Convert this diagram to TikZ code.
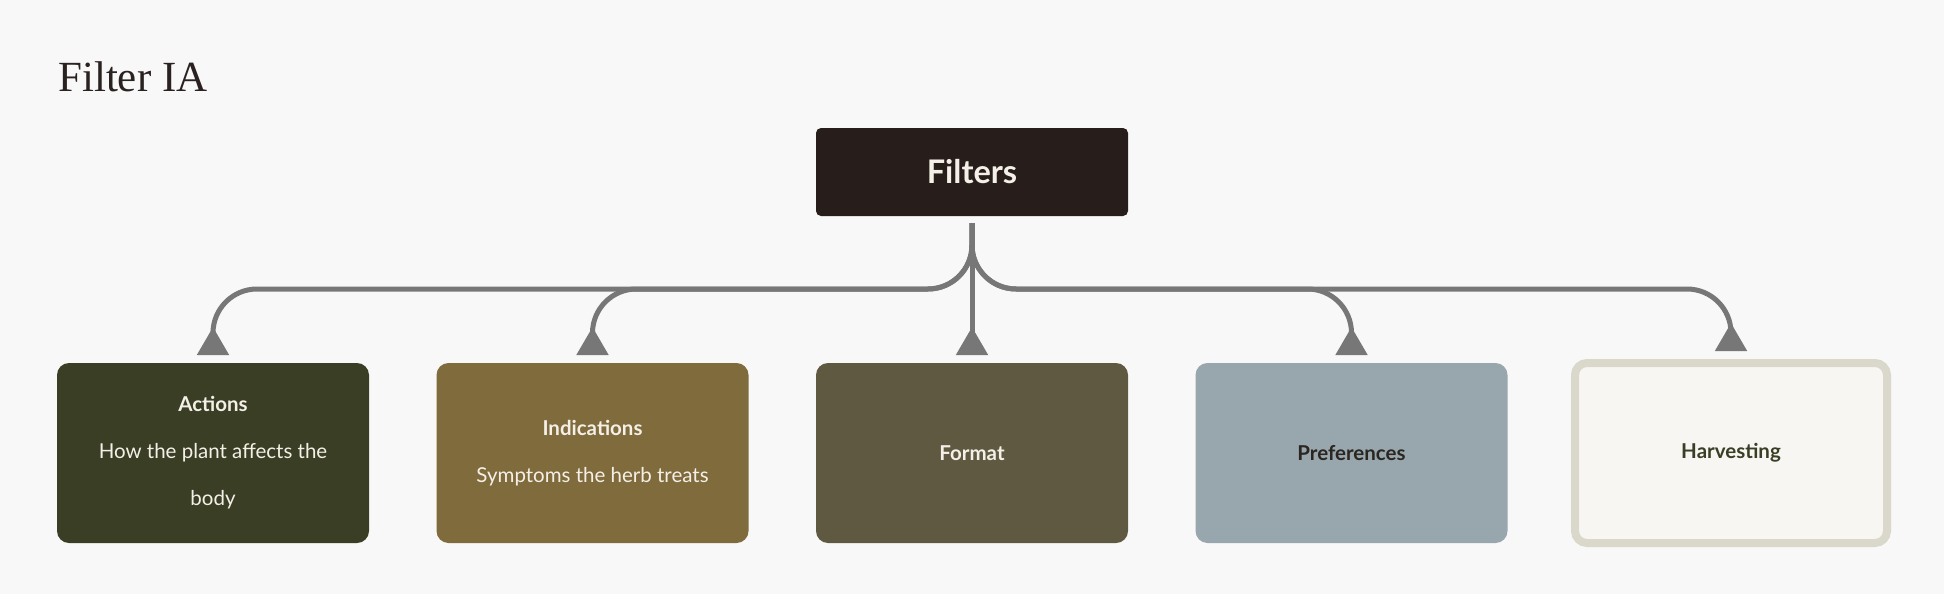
\documentclass[tikz,border=0pt]{standalone}
\usepackage{fontspec}
\setmainfont{Lato}
\newfontfamily\titlefont{Liberation Serif}
\usepackage{tikz}
\usetikzlibrary{positioning, arrows.meta}
\usepackage{xcolor}

\definecolor{paper}{HTML}{F8F8F8}
\definecolor{linegray}{HTML}{777777}
\definecolor{titleink}{HTML}{2A2220}
\definecolor{filtersbg}{HTML}{271E1C}
\definecolor{actionsbg}{HTML}{3A3E25}
\definecolor{indicbg}{HTML}{806B3C}
\definecolor{formatbg}{HTML}{5E5940}
\definecolor{prefbg}{HTML}{98A7AE}
\definecolor{harvestbg}{HTML}{F7F6F2}
\definecolor{harvestline}{HTML}{D9D8CB}
\definecolor{lighttext}{HTML}{F4F0E8}
\definecolor{darkink}{HTML}{2B2620}
\definecolor{oliveink}{HTML}{3A3E25}

\begin{document}
\begin{tikzpicture}[x=1pt, y=1pt, node distance=67.5pt,
    box/.style={rounded corners=12pt, minimum width=312pt, minimum height=180pt,
        inner sep=0pt, outer sep=0pt, align=center, text=lighttext,
        font=\fontsize{20.5}{47}\selectfont},
    link/.style={draw=linegray, line width=5pt, rounded corners=44pt,
        shorten <=7pt, shorten >=8pt,
        -{Triangle[reversed, length=28pt, width=31pt]}}]
    \useasboundingbox[fill=paper] (0,0) rectangle (1944,-594);

    \node[anchor=base west, inner sep=0pt, text=titleink,
        font=\titlefont\fontsize{43}{43}\selectfont] (title) at (58,-92) {Filter IA};
    \node[fill=filtersbg, rounded corners=5pt, minimum width=312pt, minimum height=88pt,
        outer sep=0pt, text=lighttext, font=\bfseries\fontsize{32.5}{32.5}\selectfont]
        (filters) at (972,-172) {Filters};

    \node[box, fill=actionsbg] (actions) at (213,-453)
        {\textbf{Actions}\\How the plant affects the\\body};
    \node[box, fill=indicbg, right=of actions] (indications)
        {\textbf{Indications}\\Symptoms the herb treats};
    \node[box, fill=formatbg, right=of indications] (format) {\textbf{Format}};
    \node[box, fill=prefbg, text=darkink, right=of format] (preferences) {\textbf{Preferences}};
    \node[box, fill=harvestbg, draw=harvestline, line width=8pt, text=oliveink,
        right=of preferences] (harvesting) {\textbf{Harvesting}};

    \coordinate (bus) at (0,-289);
    \draw[link] (filters.south) -- (filters.south |- bus) -| (actions.north);
    \draw[link] (filters.south) -- (filters.south |- bus) -| (indications.north);
    \draw[link] (filters) -- (format);
    \draw[link] (filters.south) -- (filters.south |- bus) -| (preferences.north);
    \draw[link, shorten >=12pt] (filters.south) -- (filters.south |- bus) -| (harvesting.north);
\end{tikzpicture}
\end{document}
